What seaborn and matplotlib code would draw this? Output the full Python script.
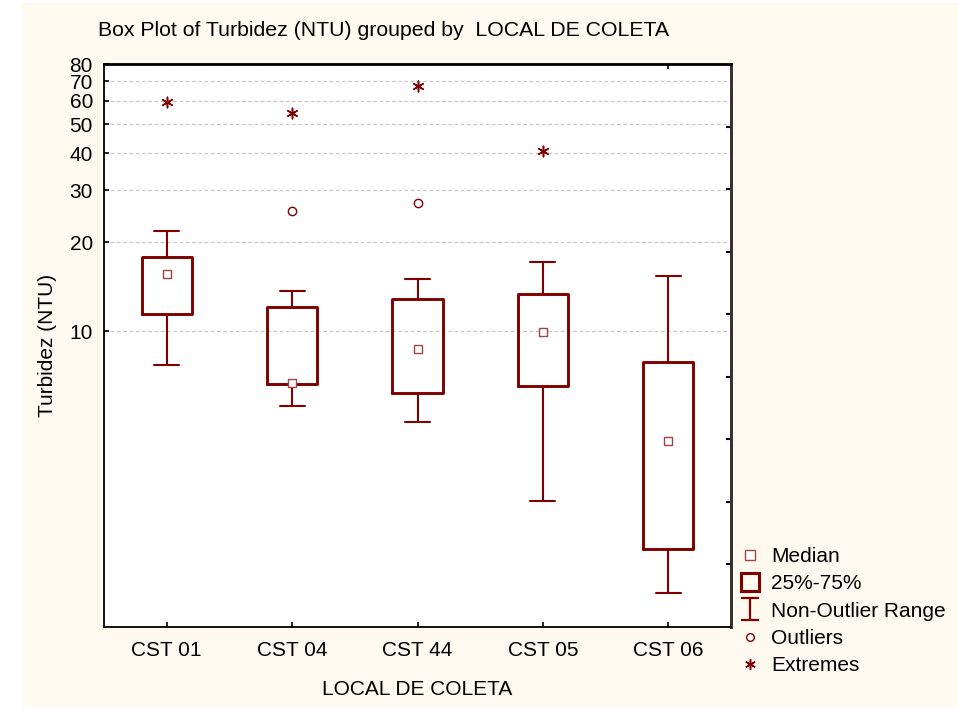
import numpy as np
import pandas as pd
import seaborn as sns
import matplotlib
matplotlib.use("Agg")
import matplotlib.pyplot as plt
from matplotlib.lines import Line2D
from matplotlib.path import Path
from matplotlib.patches import Rectangle
from matplotlib.ticker import FixedLocator, NullLocator, NullFormatter, FixedFormatter

# ---------------- data ----------------
sites = ["CST 01", "CST 04", "CST 44", "CST 05", "CST 06"]
whisker_low = [7.7, 5.6, 4.95, 2.67, 1.30]
q25 = [11.4, 6.64, 6.17, 6.53, 1.84]
median = [15.6, 6.67, 8.73, 9.9, 4.24]
q75 = [17.8, 12.1, 12.8, 13.4, 7.86]
whisker_high = [21.8, 13.7, 15.0, 17.1, 15.4]

outlier_sites = ["CST 04", "CST 44"]
outlier_values = [25.4, 27.1]
extreme_sites = ["CST 01", "CST 04", "CST 44", "CST 05"]
extreme_values = [59.4, 54.8, 67.4, 40.6]

y_ticks = [10, 20, 30, 40, 50, 60, 70, 80]
y_tick_labels = ["10", "20", "30", "40", "50", "60", "70", "80"]

title = "Box Plot of Turbidez (NTU) grouped by  LOCAL DE COLETA"
xlabel = "LOCAL DE COLETA"
ylabel = "Turbidez (NTU)"
legend_labels = ["Median", "25%-75%", "Non-Outlier Range", "Outliers", "Extremes"]

# ---------------- tables ----------------
rows = []
for s, a, b, c, d, e in zip(sites, whisker_low, q25, median, q75, whisker_high):
    for v in (a, b, c, d, e):
        rows.append({"site": s, "value": v})
box_df = pd.DataFrame(rows)
med_df = pd.DataFrame({"site": sites, "value": median})
out_df = pd.DataFrame({"site": outlier_sites, "value": outlier_values})
ext_df = pd.DataFrame({"site": extreme_sites, "value": extreme_values})

# ---------------- style ----------------
sns.set_style("ticks")
plt.rcParams["font.family"] = ["Liberation Sans", "DejaVu Sans"]
plt.rcParams["text.color"] = "black"
plt.rcParams["axes.labelcolor"] = "black"
FS = 15
MAROON = "#800000"
MED_EDGE = "#a04545"
CREAM = "#fffaf0"

W, H = 958, 710
fig = plt.figure(figsize=(W / 100, H / 100), dpi=100)
fig.patch.set_facecolor("white")
fig.patches.append(Rectangle((22 / W, 3 / H), (W - 22) / W, (H - 6) / H,
                             transform=fig.transFigure, facecolor=CREAM,
                             edgecolor="none", zorder=-10))

L, R, T, B = 104, 731, 64, 627
ax = fig.add_axes([L / W, 1 - B / H, (R - L) / W, (B - T) / H])
ax.set_facecolor("white")

sns.boxplot(data=box_df, x="site", y="value", order=sites, log_scale=True,
            whis=(0, 100), showfliers=False, fill=False, color=MAROON,
            width=0.4, linewidth=2, ax=ax,
            boxprops=dict(linewidth=2.1, color=MAROON),
            whiskerprops=dict(linewidth=1.5, color=MAROON),
            capprops=dict(linewidth=1.5, color=MAROON),
            medianprops=dict(visible=False),
            capwidths=0.2)

sns.stripplot(data=med_df, x="site", y="value", order=sites, jitter=False,
              marker="s", size=6, color="white", edgecolor=MED_EDGE,
              linewidth=1.0, ax=ax, zorder=5)
sns.stripplot(data=out_df, x="site", y="value", order=sites, jitter=False,
              marker="o", size=6, color="white", edgecolor=MAROON,
              linewidth=1.0, ax=ax, zorder=5)
sns.stripplot(data=ext_df, x="site", y="value", order=sites, jitter=False,
              marker=(6, 2, 0), size=7.5, color=MAROON, linewidth=1.1,
              ax=ax, zorder=5)

ax.set_xlim(-0.5, 4.5)
ax.set_ylim(1, 80)
ax.yaxis.set_major_locator(FixedLocator(y_ticks))
ax.yaxis.set_major_formatter(FixedFormatter(y_tick_labels))
ax.yaxis.set_minor_locator(NullLocator())
ax.yaxis.set_minor_formatter(NullFormatter())
ax.yaxis.grid(True, which="major", color="#c8c8c8", linestyle=(0, (3, 2)), linewidth=0.9)
ax.set_axisbelow(True)
ax.tick_params(axis="y", direction="in", length=3.5, width=1.2, pad=8, labelsize=FS, colors="black")
ax.tick_params(axis="x", direction="in", length=3.5, width=1.2, pad=10, labelsize=FS, colors="black")
for sp in ax.spines.values():
    sp.set_visible(True)
    sp.set_color("black")
    sp.set_linewidth(1.3)
ax.spines["right"].set_linewidth(2.0)
ax.spines["right"].set_color("#333333")
ax.spines["top"].set_linewidth(1.8)

ax.set_xlabel(xlabel, fontsize=FS)
ax.set_ylabel(ylabel, fontsize=FS)
ax.yaxis.set_label_coords((57 - L) / (R - L), 0.5)
ax.xaxis.set_label_coords(0.5, (B - 680) / (B - T))

# right axis: evenly spaced (log) ticks without labels
right_ticks = [10 ** (k * np.log10(80) / 9) for k in range(1, 9)]
ax2 = ax.secondary_yaxis("right")
ax2.set_yticks(right_ticks)
ax2.yaxis.set_minor_locator(NullLocator())
ax2.yaxis.set_major_formatter(NullFormatter())
ax2.yaxis.set_minor_formatter(NullFormatter())
ax2.tick_params(axis="y", direction="in", length=3.5, width=1.5, colors="black")
ax2.spines["right"].set_linewidth(2.0)
ax2.spines["right"].set_color("#333333")

# top axis: single tick at the last category
ax3 = ax.secondary_xaxis("top")
ax3.set_xticks([len(sites) - 1])
ax3.xaxis.set_major_formatter(NullFormatter())
ax3.tick_params(axis="x", direction="in", length=3.5, width=1.2, colors="black")
ax3.spines["top"].set_linewidth(1.8)

fig.text(98 / W, 1 - 31 / H, title, ha="left", va="center", fontsize=15.3)

# legend
ibeam = Path([(-0.82, 1), (0.82, 1), (0, 1), (0, -1), (-0.82, -1), (0.82, -1)],
             [Path.MOVETO, Path.LINETO, Path.MOVETO, Path.LINETO, Path.MOVETO, Path.LINETO])
handles = [
    Line2D([], [], ls="none", marker="s", ms=6.5, mfc="white", mec=MED_EDGE, mew=1.0),
    Line2D([], [], ls="none", marker="s", ms=13.5, mfc="none", mec=MAROON, mew=2.2),
    Line2D([], [], ls="none", marker=ibeam, ms=16, mec=MAROON, mew=1.6),
    Line2D([], [], ls="none", marker="o", ms=5.5, mfc="white", mec=MAROON, mew=1.0),
    Line2D([], [], ls="none", marker=(6, 2, 0), ms=7.5, mec=MAROON, mew=1.1),
]
fig.legend(handles, legend_labels, loc="upper left",
           bbox_to_anchor=(739 / W, 1 - 547 / H), frameon=False,
           handlelength=1.1, handletextpad=0.45, labelspacing=0.4,
           borderpad=0, borderaxespad=0, fontsize=FS)

fig.savefig("out.png", dpi=100, facecolor=fig.get_facecolor())
